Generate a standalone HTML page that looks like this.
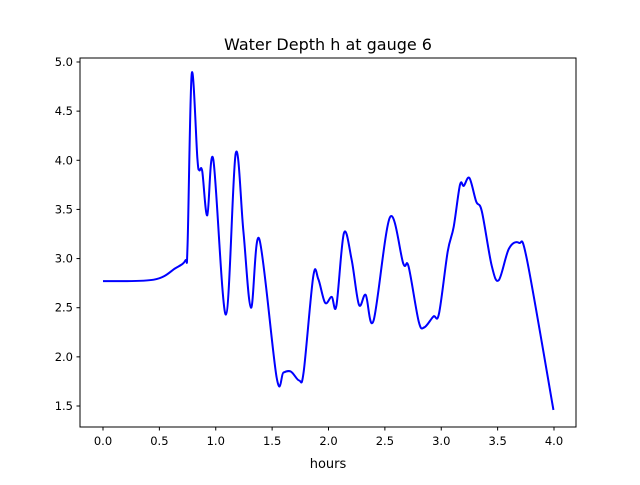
<!DOCTYPE html>
<html><head><meta charset="utf-8"><style>
body{margin:0;background:#fff}
svg text{font-family:"DejaVu Sans","Liberation Sans",sans-serif;fill:#000}
</style></head><body>
<svg id="chart" width="640" height="480" xmlns="http://www.w3.org/2000/svg">
<rect width="640" height="480" fill="#fff"/>
<text x="328" y="50" font-size="16" text-anchor="middle">Water Depth h at gauge 6</text>
<g id="xt"></g>
<g id="yt"></g>
<path id="line" fill="none" stroke="#0000ff" stroke-width="2"/>
<rect x="80" y="58" width="496" height="369" fill="none" stroke="#000" stroke-width="1"/>
<text x="328" y="468" font-size="13" text-anchor="middle">hours</text>
</svg>
<script>
const hours=[0,0.45,0.64,0.73,0.75,0.787,0.837,0.854,0.88,0.925,0.978,1.09,1.177,1.245,1.313,1.386,1.54,1.6,1.667,1.74,1.78,1.865,1.91,1.97,2.028,2.07,2.137,2.205,2.27,2.33,2.4,2.545,2.663,2.71,2.8,2.85,2.93,2.98,3.057,3.11,3.166,3.2,3.25,3.31,3.36,3.447,3.51,3.6,3.69,3.76,3.995];
const depth=[2.77,2.785,2.9,2.98,3.14,4.88,4.02,3.9,3.89,3.44,4.01,2.43,4.07,3.28,2.5,3.2,1.79,1.84,1.85,1.76,1.85,2.82,2.79,2.55,2.61,2.52,3.26,2.99,2.53,2.63,2.37,3.42,2.95,2.92,2.36,2.3,2.41,2.44,3.07,3.32,3.75,3.74,3.82,3.58,3.48,2.93,2.78,3.1,3.16,2.99,1.46];
const xTicks=[0,0.5,1,1.5,2,2.5,3,3.5,4];
const yTicks=[1.5,2,2.5,3,3.5,4,4.5,5];
const X=v=>103+v*112.75;
const Y=v=>406-(v-1.5)*98.29;
const NS='http://www.w3.org/2000/svg';
function mk(t,a,p){const e=document.createElementNS(NS,t);for(const k in a)e.setAttribute(k,a[k]);p.appendChild(e);return e;}
const xt=document.getElementById('xt'),yt=document.getElementById('yt');
xTicks.forEach(v=>{
 const l=mk('line',{x1:X(v),x2:X(v),y1:427,y2:430.5,stroke:'#000'},xt);
 
 
 const t=mk('text',{x:X(v),y:445,'font-size':'11.5','text-anchor':'middle'},xt);
 
 
 t.textContent=v.toFixed(1);
});
yTicks.forEach(v=>{
 const l=mk('line',{x1:76.5,x2:80,y1:Y(v),y2:Y(v),stroke:'#000'},yt);
 
 
 const t=mk('text',{x:73,y:Y(v)+4,'font-size':'11.5','text-anchor':'end'},yt);
 
 
 t.textContent=v.toFixed(1);
});
const P=hours.map((h,i)=>[X(h),Y(depth[i])]);
let d='M'+P[0][0]+','+P[0][1];
for(let i=0;i<P.length-1;i++){
 const p0=P[Math.max(0,i-1)],p1=P[i],p2=P[i+1],p3=P[Math.min(P.length-1,i+2)];
 const k=1/6;
 d+=` C${p1[0]+(p2[0]-p0[0])*k},${p1[1]+(p2[1]-p0[1])*k} ${p2[0]-(p3[0]-p1[0])*k},${p2[1]-(p3[1]-p1[1])*k} ${p2[0]},${p2[1]}`;
}
document.getElementById('line').setAttribute('d',d);
</script>
</body></html>
